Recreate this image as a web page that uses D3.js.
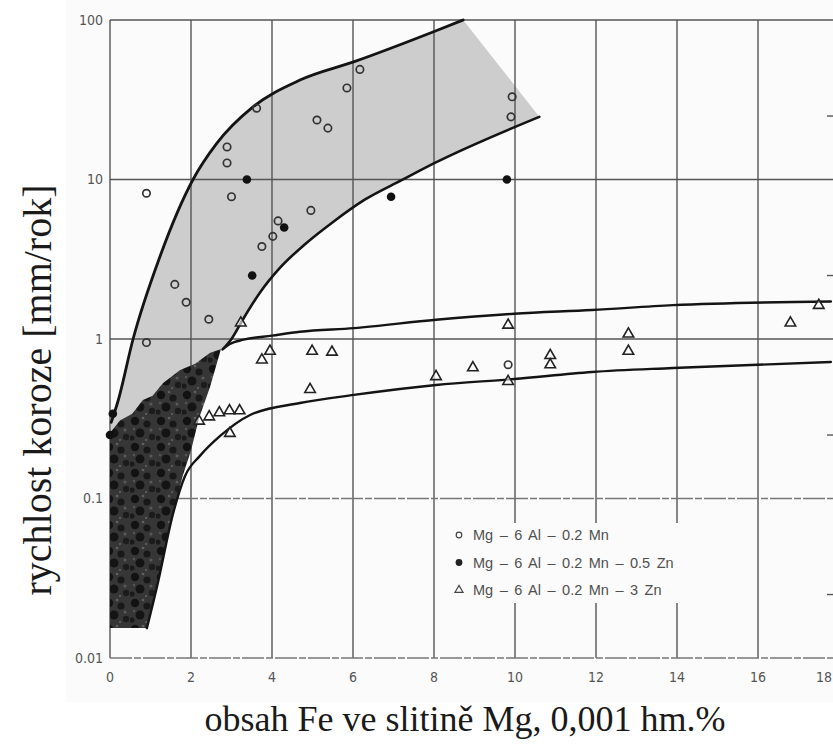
<!DOCTYPE html>
<html>
<head>
<meta charset="utf-8">
<script src="https://cdn.jsdelivr.net/npm/d3@7"></script>
<style>
  html, body { margin: 0; padding: 0; background: #ffffff; }
  svg { display: block; }
</style>
</head>
<body>
<div id="chart"></div>
<script>
// Corrosion rate of Mg–6Al–0.2Mn alloys versus iron content

// Axis ticks
const xTicks = [0, 2, 4, 6, 8, 10, 12, 14, 16, 18];
const yTicks = [0.01, 0.1, 1, 10, 100];
const yTickLabels = ["0.01", "0.1", "1", "10", "100"];
const rightTicks = [25, 2.5, 0.25, 0.025];

// Series: [Fe content (0.001 wt.%), corrosion rate (mm/year)]
const seriesMn = [
  [0.9, 8.2], [0.9, 0.95], [1.6, 2.2], [1.88, 1.7], [2.44, 1.33],
  [2.89, 16], [2.89, 12.7], [3.0, 7.8], [3.62, 28], [3.75, 3.8],
  [4.02, 4.4], [4.15, 5.5], [4.96, 6.4], [5.11, 23.6], [5.38, 21],
  [5.85, 37.5], [6.17, 49], [9.93, 33], [9.9, 24.7], [9.83, 0.69]
];
const seriesZn05 = [
  [0.07, 0.34], [0.0, 0.25], [3.38, 10], [4.3, 5.0], [3.51, 2.5],
  [6.94, 7.8], [9.8, 10]
];
const seriesZn3 = [
  [2.2, 0.31], [2.45, 0.33], [2.7, 0.35], [2.95, 0.36], [3.2, 0.36],
  [2.96, 0.26], [3.75, 0.75], [3.95, 0.85], [3.23, 1.28], [4.99, 0.85],
  [5.48, 0.84], [4.94, 0.49], [8.05, 0.59], [8.96, 0.67], [9.83, 1.24],
  [9.83, 0.55], [10.87, 0.8], [10.87, 0.7], [12.8, 1.09], [12.8, 0.85],
  [16.8, 1.28], [17.5, 1.65]
];

// Scatter band of the Zn-free / 0.5 Zn alloys
const bandUpper = [
  [0.03, 0.3], [0.2, 0.41], [0.57, 1.0], [1.23, 3.27], [2.05, 10],
  [2.64, 16.9], [3.53, 28.5], [4.69, 42], [6.05, 55], [8.02, 85], [8.72, 100]
];
const bandLower = [
  [2.78, 0.86], [3.0, 1.0], [3.3, 1.35], [3.7, 1.95], [4.2, 2.8],
  [4.8, 3.9], [5.5, 5.4], [6.3, 7.5], [7.2, 9.9], [8.02, 12.7], [10.6, 24.7]
];
// High-purity region
const darkTop = [
  [0, 0.258], [0.25, 0.31], [0.55, 0.34], [0.81, 0.415], [1.05, 0.44],
  [1.31, 0.53], [1.73, 0.64], [2.1, 0.7], [2.47, 0.82], [2.74, 0.865]
];
const darkRight = [
  [2.47, 0.5], [2.2, 0.32], [2.0, 0.2], [1.8, 0.14], [1.56, 0.081],
  [1.16, 0.028], [0.91, 0.0154], [0, 0.0154]
];
// Band of the 3 Zn alloy
const zn3Upper = [
  [2.8, 0.87], [2.96, 0.93], [3.3, 0.99], [4.0, 1.05], [4.69, 1.11],
  [6.02, 1.17], [8.05, 1.32], [9.98, 1.44], [11.9, 1.52], [13.9, 1.63], [17.8, 1.72]
];
const zn3Lower = [
  [0.91, 0.0154], [1.16, 0.028], [1.56, 0.081], [1.85, 0.138], [2.22, 0.185],
  [2.72, 0.247], [3.46, 0.334], [4.69, 0.397], [6.02, 0.446], [8.05, 0.515],
  [9.98, 0.561], [11.9, 0.621], [13.9, 0.658], [17.8, 0.718]
];

const legendItems = [
  { label: "Mg – 6 Al – 0.2 Mn", kind: "open" },
  { label: "Mg – 6 Al – 0.2 Mn – 0.5 Zn", kind: "filled" },
  { label: "Mg – 6 Al – 0.2 Mn – 3 Zn", kind: "triangle" }
];

const W = 833, H = 747;
const svg = d3.select("#chart").append("svg").attr("width", W).attr("height", H);

const x = d3.scaleLinear().domain([0, 18]).range([110, 839]);
const y = d3.scaleLog().domain([0.01, 100]).range([658, 20]);

// mottled texture for the dark region
const defs = svg.append("defs");
const pat = defs.append("pattern").attr("id", "mottle")
  .attr("width", 26).attr("height", 26).attr("patternUnits", "userSpaceOnUse");
pat.append("rect").attr("width", 26).attr("height", 26).attr("fill", "#363636");
[[5, 5, 4.2, "#121212"], [17, 8, 3.6, "#181818"], [10, 17, 4.5, "#141414"],
 [22, 21, 3.2, "#1c1c1c"], [2, 22, 2.6, "#1a1a1a"], [13, 2, 1.3, "#606060"],
 [21, 14, 1.5, "#5a5a5a"], [4, 13, 1.2, "#555"], [16, 24, 1.0, "#666"]]
  .forEach(b => pat.append("circle").attr("cx", b[0]).attr("cy", b[1]).attr("r", b[2]).attr("fill", b[3]));

// scanned page background
svg.append("rect").attr("x", 66).attr("y", 0).attr("width", W - 66).attr("height", 702)
  .attr("fill", "#fbfbfb");

const px = d => x(d[0]), py = d => y(d[1]);
const smooth = d3.line().x(px).y(py).curve(d3.curveMonotoneX);
const poly = pts => "M" + pts.map(d => px(d) + "," + py(d)).join("L");

// light scatter band: upper curve, straight right edge, lower curve, then along the dark region
const lightPath = smooth(bandUpper) + "L" +
  smooth(bandLower.slice().reverse()).slice(1) + "L" +
  poly(darkTop.slice().reverse()).slice(1) + "Z";
svg.append("path").attr("d", lightPath).attr("fill", "#cdcdcd");

// grid
const grid = svg.append("g").attr("stroke", "#555").attr("stroke-width", 1.4).attr("fill", "none");
grid.selectAll("line.v").data(xTicks).join("line")
  .attr("x1", d => x(d)).attr("x2", d => x(d))
  .attr("y1", y(100)).attr("y2", y(0.01));
grid.selectAll("line.h").data(yTicks).join("line")
  .attr("x1", x(0)).attr("x2", x(18))
  .attr("y1", d => y(d)).attr("y2", d => y(d))
  .attr("stroke-dasharray", d => d < 1 ? "22 2 7 2" : null)
  .attr("stroke", d => d < 1 ? "#777" : "#555");
grid.selectAll("line.r").data(rightTicks).join("line")
  .attr("x1", x(18) - 12).attr("x2", x(18))
  .attr("y1", d => y(d)).attr("y2", d => y(d));

// dark high-purity region
svg.append("path")
  .attr("d", poly(darkTop.concat(darkRight)) + "Z")
  .attr("fill", "url(#mottle)");

// boundary curves
const curves = svg.append("g").attr("fill", "none").attr("stroke", "#141414").attr("stroke-linecap", "round");
curves.append("path").attr("d", smooth(bandUpper)).attr("stroke-width", 2.8);
curves.append("path").attr("d", smooth(bandLower)).attr("stroke-width", 2.6);
curves.append("path").attr("d", smooth(zn3Upper)).attr("stroke-width", 2.4);
curves.append("path").attr("d", smooth(zn3Lower)).attr("stroke-width", 2.4);

// markers
const marks = svg.append("g");
marks.selectAll("circle.o").data(seriesMn).join("circle")
  .attr("cx", px).attr("cy", py).attr("r", 3.7)
  .attr("fill", "none").attr("stroke", "#333").attr("stroke-width", 1.7);
marks.selectAll("circle.f").data(seriesZn05).join("circle")
  .attr("cx", px).attr("cy", py).attr("r", 4.3).attr("fill", "#111");
const tri = d3.symbol(d3.symbolTriangle, 48);
marks.selectAll("path.t").data(seriesZn3).join("path")
  .attr("d", tri).attr("transform", d => `translate(${px(d)},${py(d) + 1})`)
  .attr("fill", "#fff").attr("fill-opacity", 0.6)
  .attr("stroke", "#222").attr("stroke-width", 1.6);

// legend
const lg = svg.append("g");
lg.append("rect").attr("x", 441).attr("y", 523).attr("width", 265).attr("height", 80).attr("fill", "#fbfbfb");
legendItems.forEach((it, i) => {
  const cy = 535 + i * 27.5;
  if (it.kind === "open") {
    lg.append("circle").attr("cx", 459).attr("cy", cy).attr("r", 2.8)
      .attr("fill", "none").attr("stroke", "#444").attr("stroke-width", 1.2);
  } else if (it.kind === "filled") {
    lg.append("circle").attr("cx", 459).attr("cy", cy).attr("r", 3.4).attr("fill", "#222");
  } else {
    lg.append("path").attr("d", d3.symbol(d3.symbolTriangle, 28)())
      .attr("transform", `translate(459,${cy})`)
      .attr("fill", "none").attr("stroke", "#444").attr("stroke-width", 1.2);
  }
  lg.append("text").attr("x", 473).attr("y", cy).attr("dy", "0.36em")
    .attr("font-family", "Liberation Sans, Arial, sans-serif").attr("font-size", 14.5)
    .attr("word-spacing", 2.5).attr("fill", "#505050").text(it.label);
});

// tick labels
const tickFont = "'Liberation Sans Narrow', 'DejaVu Sans Condensed', sans-serif";
svg.append("g").selectAll("text").data(xTicks).join("text")
  .attr("x", d => d === 18 ? W - 1 : x(d)).attr("y", 682)
  .attr("text-anchor", d => d === 18 ? "end" : "middle")
  .attr("font-family", tickFont).attr("font-size", 14).attr("fill", "#555")
  .text(d => d);
svg.append("g").selectAll("text").data(yTicks).join("text")
  .attr("x", 103).attr("y", d => y(d)).attr("dy", "0.35em").attr("text-anchor", "end")
  .attr("font-family", tickFont).attr("font-size", 14).attr("fill", "#555")
  .text((d, i) => yTickLabels[i]);

// axis titles
svg.append("text")
  .attr("transform", "translate(38,390) rotate(-90)")
  .attr("text-anchor", "middle").attr("dy", "0.32em")
  .attr("font-family", "'Liberation Serif', 'Times New Roman', serif")
  .attr("font-size", 40).attr("fill", "#1a1a1a")
  .text("rychlost koroze [mm/rok]");
svg.append("text")
  .attr("x", 465).attr("y", 731).attr("text-anchor", "middle")
  .attr("font-family", "'Liberation Serif', 'Times New Roman', serif")
  .attr("font-size", 36).attr("fill", "#1a1a1a")
  .text("obsah Fe ve slitině Mg, 0,001 hm.%");
</script>
</body>
</html>
